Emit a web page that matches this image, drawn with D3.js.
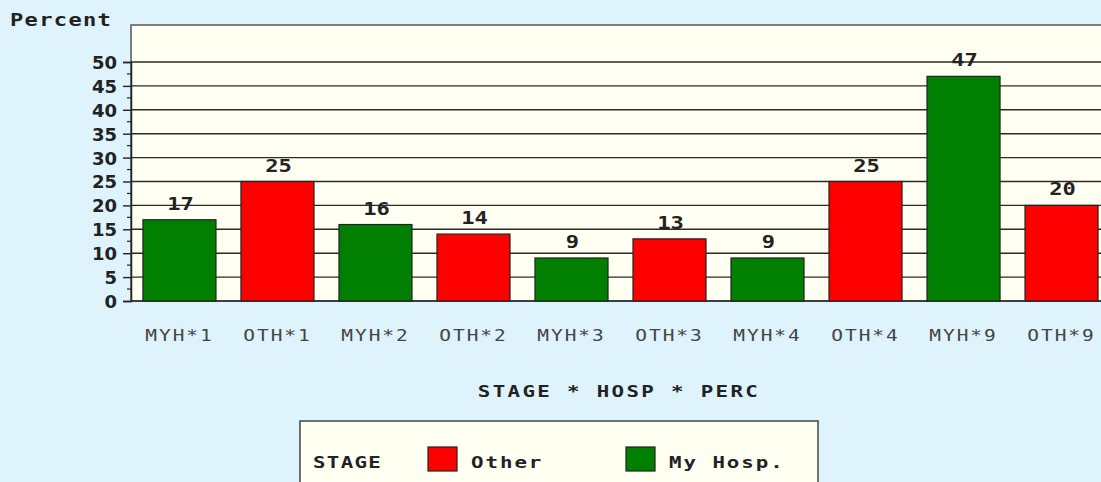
<!DOCTYPE html>
<html lang="en">
<head>
    <meta charset="UTF-8">
    <title>Percent by Stage and Hospital</title>
    <script src="https://cdnjs.cloudflare.com/ajax/libs/d3/7.8.5/d3.min.js"></script>
    <style>
        body {
            margin: 0;
            padding: 0;
            background: #dff3fc;
            overflow: hidden;
        }
        svg {
            display: block;
        }
        .mono {
            font-family: "DejaVu Sans Mono", monospace;
        }
    </style>
</head>
<body>
    <svg width="1101" height="482"></svg>
    <script>
        // data
        const categories = ["MYH*1", "OTH*1", "MYH*2", "OTH*2", "MYH*3", "OTH*3", "MYH*4", "OTH*4", "MYH*9", "OTH*9"];
        const stages = ["My Hosp.", "Other", "My Hosp.", "Other", "My Hosp.", "Other", "My Hosp.", "Other", "My Hosp.", "Other"];
        const values = [17, 25, 16, 14, 9, 13, 9, 25, 47, 20];
        const yTicks = [0, 5, 10, 15, 20, 25, 30, 35, 40, 45, 50];
        const legendItems = ["Other", "My Hosp."];

        const colors = { "Other": "#ff0000", "My Hosp.": "#007f00" };

        const svg = d3.select("svg");
        const plotLeft = 131, plotRight = 1110, plotTop = 25, plotBottom = 301;

        // the original uses a wide bitmap font, so stretch the mono text a bit
        const stretch = 1.3;
        function wideText(parent, tx, ty, size) {
            return parent.append("text")
                .attr("class", "mono")
                .attr("transform", `translate(${tx},${ty}) scale(${stretch},1)`)
                .attr("font-size", size)
                .attr("fill", "#222");
        }

        const x = d3.scaleBand()
            .domain(categories)
            .range([plotLeft, plotRight])
            .paddingInner(0.255)
            .paddingOuter(0.122);

        const y = d3.scaleLinear()
            .domain([0, 50])
            .range([plotBottom, 62]);

        // plot frame
        svg.append("rect")
            .attr("x", plotLeft).attr("y", plotTop)
            .attr("width", plotRight - plotLeft).attr("height", plotBottom - plotTop)
            .attr("fill", "#fffff2")
            .attr("stroke", "#555")
            .attr("stroke-width", 1.5);

        // gridlines
        svg.append("g")
            .selectAll("line")
            .data(yTicks)
            .enter().append("line")
            .attr("x1", plotLeft).attr("x2", plotRight)
            .attr("y1", d => y(d)).attr("y2", d => y(d))
            .attr("stroke", "#2a2a2a")
            .attr("stroke-width", 1.4);

        // y axis: major ticks via d3 axis, minor ticks in between
        const yAxis = svg.append("g")
            .attr("transform", `translate(${plotLeft},0)`)
            .call(d3.axisLeft(y).tickValues(yTicks).tickSize(8).tickPadding(6));
        yAxis.select(".domain").attr("stroke", "#222").attr("stroke-width", 1.5);
        yAxis.selectAll(".tick line").attr("stroke", "#222").attr("stroke-width", 1.4);
        yAxis.selectAll(".tick text")
            .attr("font-family", "DejaVu Sans, sans-serif")
            .attr("font-weight", "bold")
            .attr("font-size", 18)
            .attr("dy", "0.36em")
            .attr("fill", "#222");

        const minor = d3.range(2.5, 50, 5);
        svg.append("g")
            .selectAll("line")
            .data(minor)
            .enter().append("line")
            .attr("x1", plotLeft - 4).attr("x2", plotLeft)
            .attr("y1", d => y(d)).attr("y2", d => y(d))
            .attr("stroke", "#222")
            .attr("stroke-width", 1.2);

        wideText(svg, 10, 26, 17)
            .attr("font-weight", "bold")
            .attr("letter-spacing", 1)
            .text("Percent");

        // bars
        svg.append("g")
            .selectAll("rect")
            .data(categories)
            .enter().append("rect")
            .attr("x", d => x(d))
            .attr("y", (d, i) => y(values[i]))
            .attr("width", x.bandwidth())
            .attr("height", (d, i) => y(0) - y(values[i]))
            .attr("fill", (d, i) => colors[stages[i]])
            .attr("stroke", "#222")
            .attr("stroke-width", 1.2);

        // value labels
        const valueG = svg.append("g");
        categories.forEach((c, i) => {
            wideText(valueG, x(c) + x.bandwidth() / 2 + 1, y(values[i]) - 10, 17)
                .attr("text-anchor", "middle")
                .attr("font-weight", "bold")
                .text(values[i]);
        });

        // category labels
        const catG = svg.append("g");
        categories.forEach(c => {
            wideText(catG, x(c) + x.bandwidth() / 2, 341, 15)
                .attr("text-anchor", "middle")
                .attr("letter-spacing", 1.5)
                .attr("fill", "#444")
                .text(c);
        });

        wideText(svg, 619, 397, 16)
            .attr("text-anchor", "middle")
            .attr("font-weight", "bold")
            .attr("letter-spacing", 1.8)
            .text("STAGE * HOSP * PERC");

        // legend
        const legend = svg.append("g");
        legend.append("rect")
            .attr("x", 300).attr("y", 421)
            .attr("width", 518).attr("height", 80)
            .attr("fill", "#fffff2")
            .attr("stroke", "#444")
            .attr("stroke-width", 1.5);
        wideText(legend, 313, 468, 16)
            .attr("font-weight", "bold")
            .attr("letter-spacing", 1)
            .text("STAGE");

        const legendX = [428, 626];
        legendItems.forEach((name, i) => {
            legend.append("rect")
                .attr("x", legendX[i]).attr("y", 447)
                .attr("width", 29).attr("height", 24)
                .attr("fill", colors[name])
                .attr("stroke", "#222")
                .attr("stroke-width", 1.2);
            wideText(legend, legendX[i] + 43, 468, 16)
                .attr("font-weight", "bold")
                .attr("letter-spacing", 1.5)
                .text(name);
        });
    </script>
</body>
</html>
